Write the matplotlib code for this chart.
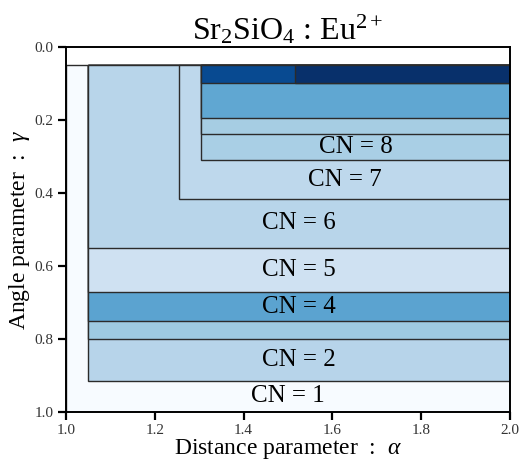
import numpy as np
import matplotlib
matplotlib.use("Agg")
import matplotlib.pyplot as plt
from matplotlib.patches import Rectangle

plt.rcParams["font.family"] = "serif"
plt.rcParams["font.serif"] = ["Liberation Serif", "DejaVu Serif"]
plt.rcParams["mathtext.fontset"] = "custom"
plt.rcParams["mathtext.rm"] = "Liberation Serif"
plt.rcParams["mathtext.it"] = "Liberation Serif:italic"

# coordination regions, nested: each one spans alpha_min..ALPHA_MAX, GAMMA_MIN..gamma_max
cn_values = [1, 2, 3, 4, 5, 6, 7, 8, 9, 10, 11, 12]
alpha_min = [1.0, 1.05, 1.05, 1.05, 1.05, 1.05, 1.255, 1.305, 1.305, 1.305, 1.305, 1.515]
gamma_max = [1.0, 0.914, 0.80, 0.752, 0.672, 0.55, 0.417, 0.31, 0.239, 0.194, 0.10, 0.10]
labelled_cn = [1, 2, 4, 5, 6, 7, 8]

ALPHA_MAX = 2.0
GAMMA_MIN = 0.05

region_colors = ["#f7fbff", "#b7d4ea", "#9ecae1", "#5ba3d0", "#cfe1f2", "#b8d5ea",
                 "#bed8ec", "#a9cfe5", "#a6cde3", "#60a7d2", "#084a91", "#08306b"]

x_ticks = [1.0, 1.2, 1.4, 1.6, 1.8, 2.0]
y_ticks = [0.0, 0.2, 0.4, 0.6, 0.8, 1.0]

fig = plt.figure(figsize=(5.29, 4.65), dpi=100)
ax = fig.add_axes([0.1248, 0.114, 0.8393, 0.785])

for i, cn in enumerate(cn_values):
    rect = Rectangle((alpha_min[i], GAMMA_MIN),
                     ALPHA_MAX - alpha_min[i], gamma_max[i] - GAMMA_MIN,
                     facecolor=region_colors[i], edgecolor="#2b2b2b", linewidth=1.0)
    ax.add_patch(rect)

    if cn in labelled_cn:
        # label sits in the band between this region and the next nested one
        inner = gamma_max[i + 1] if i + 1 < len(cn_values) else GAMMA_MIN
        xc = 0.5 * (alpha_min[i] + ALPHA_MAX)
        yc = 0.5 * (gamma_max[i] + inner)
        ax.text(xc, yc, "CN = %d" % cn, ha="center", va="center", fontsize=18)

ax.set_xlim(1.0, 2.0)
ax.set_ylim(1.0, 0.0)
ax.set_xticks(x_ticks)
ax.set_yticks(y_ticks)
ax.set_xticklabels([f"{t:.1f}" for t in x_ticks])
ax.set_yticklabels([f"{t:.1f}" for t in y_ticks])
ax.tick_params(direction="out", length=6, width=1.6, labelsize=11, pad=3,
               labelcolor="#333333")

for side in ["top", "right", "bottom", "left"]:
    ax.spines[side].set_linewidth(1.4)

ax.set_xlabel(r"Distance parameter  :  $\alpha$", fontsize=17, labelpad=0)
ax.set_ylabel(r"Angle parameter  :  $\gamma$", fontsize=17, labelpad=2)
ax.set_title(r"$\mathrm{Sr_2SiO_4}$ : $\mathrm{Eu^{2+}}$", fontsize=23, pad=3)

fig.savefig("out.png", dpi=100)
plt.close(fig)
